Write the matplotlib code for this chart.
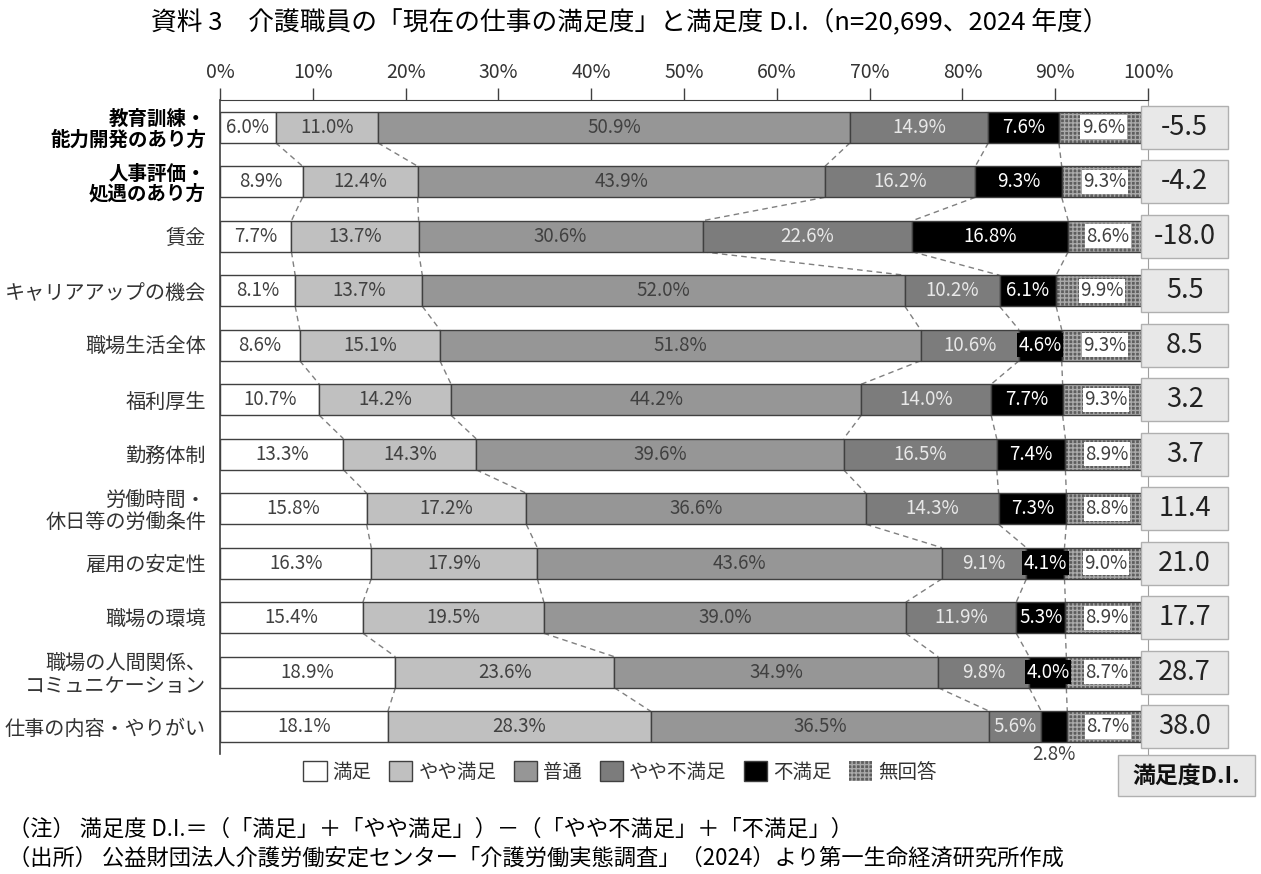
import matplotlib
matplotlib.use('Agg')
import matplotlib.pyplot as plt
from matplotlib.patches import Rectangle, Patch
import numpy as np

plt.rcParams['font.family'] = ['Noto Sans CJK JP', 'DejaVu Sans']
plt.rcParams['hatch.linewidth'] = 1.0

categories = ['教育訓練・\n能力開発のあり方', '人事評価・\n処遇のあり方', '賃金', 'キャリアアップの機会',
              '職場生活全体', '福利厚生', '勤務体制', '労働時間・\n休日等の労働条件', '雇用の安定性',
              '職場の環境', '職場の人間関係、\nコミュニケーション', '仕事の内容・やりがい']
series_names = ['満足', 'やや満足', '普通', 'やや不満足', '不満足', '無回答']
manzoku = [6.0, 8.9, 7.7, 8.1, 8.6, 10.7, 13.3, 15.8, 16.3, 15.4, 18.9, 18.1]
yaya_manzoku = [11.0, 12.4, 13.7, 13.7, 15.1, 14.2, 14.3, 17.2, 17.9, 19.5, 23.6, 28.3]
futsu = [50.9, 43.9, 30.6, 52.0, 51.8, 44.2, 39.6, 36.6, 43.6, 39.0, 34.9, 36.5]
yaya_fuman = [14.9, 16.2, 22.6, 10.2, 10.6, 14.0, 16.5, 14.3, 9.1, 11.9, 9.8, 5.6]
fuman = [7.6, 9.3, 16.8, 6.1, 4.6, 7.7, 7.4, 7.3, 4.1, 5.3, 4.0, 2.8]
mukaito = [9.6, 9.3, 8.6, 9.9, 9.3, 9.3, 8.9, 8.8, 9.0, 8.9, 8.7, 8.7]
di_values = [-5.5, -4.2, -18.0, 5.5, 8.5, 3.2, 3.7, 11.4, 21.0, 17.7, 28.7, 38.0]

series = [manzoku, yaya_manzoku, futsu, yaya_fuman, fuman, mukaito]
colors = ['#ffffff', '#c0c0c0', '#969696', '#7c7c7c', '#000000', '#5e5e5e']
text_colors = ['#404040', '#404040', '#404040', '#e8e8e8', '#ffffff', '#404040']
hatch_col = '#aaaaaa'

fig = plt.figure(figsize=(12.61, 8.74), dpi=100)
ax = fig.add_axes([220 / 1261, 1 - 754 / 874, 928 / 1261, 654 / 874])

y = np.arange(len(categories))
h = 0.57
fs = 13.5
left = np.zeros(len(categories))
bounds = []
for k, (vals, col) in enumerate(zip(series, colors)):
    vals = np.array(vals)
    if k == 5:
        ax.barh(y, vals, left=left, height=h, color=col, edgecolor=hatch_col,
                hatch='++++', linewidth=0, zorder=2)
        ax.barh(y, vals, left=left, height=h, fill=False, edgecolor='#404040',
                linewidth=1, zorder=3)
    else:
        ax.barh(y, vals, left=left, height=h, color=col, edgecolor='#404040',
                linewidth=1, zorder=3)
    for i, v in enumerate(vals):
        cx = left[i] + v / 2
        txt = f'{v:.1f}%'
        if k == 5:
            ax.text(cx, y[i], txt, ha='center', va='center', fontsize=fs,
                    color='#404040', zorder=5,
                    bbox=dict(boxstyle='square,pad=0.08', fc='white', ec='none'))
        elif k == 4:
            if i == len(vals) - 1:
                ax.text(cx, y[i] + 0.5, txt, ha='center', va='center', fontsize=fs,
                        color='#404040', zorder=5)
            else:
                ax.text(cx, y[i], txt, ha='center', va='center', fontsize=fs,
                        color='white', zorder=5,
                        bbox=dict(boxstyle='square,pad=0.08', fc='black', ec='none'))
        else:
            ax.text(cx, y[i], txt, ha='center', va='center', fontsize=fs,
                    color=text_colors[k], zorder=5)
    left = left + vals
    if k < 5:
        bounds.append(left.copy())

# series lines between bars
for b in bounds:
    for i in range(len(categories) - 1):
        ax.plot([b[i], b[i + 1]], [y[i] + h / 2, y[i + 1] - h / 2], ls=(0, (4, 3)),
                color='#808080', lw=1, zorder=1)

ax.set_xlim(0, 100)
ax.set_ylim(len(categories) - 0.5, -0.5)
ax.set_yticks(y)
ax.set_yticklabels(categories, fontsize=14.5, color='#333333', linespacing=1.05)
for lab in ax.get_yticklabels()[:2]:
    lab.set_fontweight('bold')
    lab.set_fontsize(14)
    lab.set_color('black')
ax.tick_params(axis='y', length=0, pad=10)
ax.xaxis.tick_top()
ax.set_xticks(np.arange(0, 101, 10))
ax.set_xticklabels([f'{t}%' for t in range(0, 101, 10)], fontsize=14, color='#333333')
ax.tick_params(axis='x', direction='out', length=9, width=1, color='#404040', pad=3)
ax.spines['bottom'].set_visible(False)
ax.spines['top'].set_color('#404040')
ax.spines['left'].set_color('#404040')
ax.spines['left'].set_linewidth(1.2)
ax.spines['right'].set_color('#a0a0a0')

# D.I. boxes
for i, d in enumerate(di_values):
    ax.add_patch(Rectangle((99.25, y[i] - 0.395), 9.4, 0.79, fc='#e8e8e8', ec='#b0b0b0',
                           lw=1, clip_on=False, zorder=6))
    ax.text(103.95, y[i], f'{d:.1f}', ha='center', va='center', fontsize=19.5,
            color='#222222', clip_on=False, zorder=7)

fig.add_artist(Rectangle((1118 / 1261, 1 - 796 / 874), 137 / 1261, 41 / 874, fc='#e8e8e8',
                         ec='#b0b0b0', lw=1, transform=fig.transFigure))
fig.text(1186 / 1261, 1 - 776 / 874, '満足度D.I.', ha='center', va='center', fontsize=16.5,
         fontweight='bold', color='#111111')

handles = []
for k, (name, col) in enumerate(zip(series_names, colors)):
    if k == 5:
        handles.append(Patch(fc=col, ec=hatch_col, hatch='++++', lw=0, label=name))
    else:
        handles.append(Patch(fc=col, ec='#404040', lw=1, label=name))
fig.legend(handles=handles, loc='center', bbox_to_anchor=(620 / 1261, 1 - 772 / 874), ncol=6,
           frameon=False, fontsize=14, handlelength=1.2, handleheight=1.2, handletextpad=0.3,
           columnspacing=0.9, labelcolor='#333333')

fig.text(630 / 1261, 1 - 22 / 874, '資料 3　介護職員の「現在の仕事の満足度」と満足度 D.I.（n=20,699、2024 年度）',
         ha='center', va='center', fontsize=18.5, color='black')
fig.text(8 / 1261, 1 - 829 / 874, '（注） 満足度 D.I.＝（「満足」＋「やや満足」）－（「やや不満足」＋「不満足」）',
         ha='left', va='center', fontsize=16, color='black')
fig.text(8 / 1261, 1 - 858 / 874, '（出所） 公益財団法人介護労働安定センター「介護労働実態調査」（2024）より第一生命経済研究所作成',
         ha='left', va='center', fontsize=16, color='black')

fig.savefig('out.png', dpi=100)
